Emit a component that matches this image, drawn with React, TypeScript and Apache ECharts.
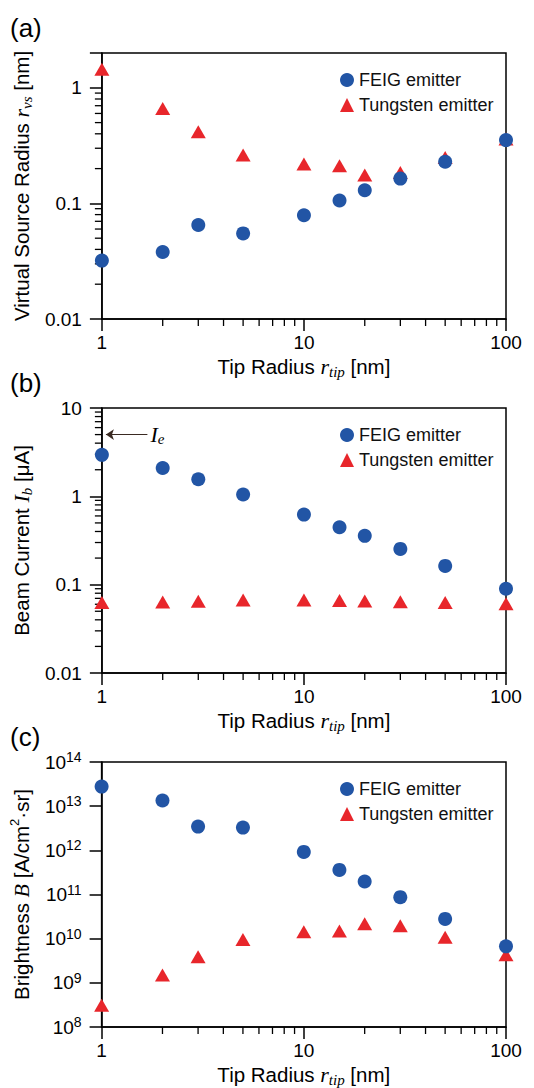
import React, { useEffect, useRef } from 'react';
import * as echarts from 'echarts';

// ---- data ----
const tipRadius = [1, 2, 3, 5, 10, 15, 20, 30, 50, 100];
const feigVirtualSource = [0.032, 0.038, 0.065, 0.055, 0.079, 0.106, 0.13, 0.164, 0.229, 0.353];
const tungstenVirtualSource = [1.45, 0.663, 0.417, 0.262, 0.219, 0.212, 0.176, 0.185, 0.25, 0.36];
const feigBeamCurrent = [2.95, 2.09, 1.56, 1.05, 0.621, 0.447, 0.357, 0.254, 0.163, 0.0899];
const tungstenBeamCurrent = [0.063, 0.0636, 0.065, 0.067, 0.067, 0.066, 0.0655, 0.064, 0.063, 0.061];
const feigBrightness = [2.77e13, 1.34e13, 3.45e12, 3.27e12, 9.2e11, 3.6e11, 1.97e11, 8.7e10, 2.8e10, 6.7e9];
const tungstenBrightness = [3.1e8, 1.5e9, 3.9e9, 9.6e9, 1.43e10, 1.5e10, 2.17e10, 1.96e10, 1.07e10, 4.3e9];
const emitterCurrent = 5; // I_e at r_tip = 1
const emitterArrowFrom = 1.68;
const emitterArrowTo = 1.047;

const xMinorTicks = [2, 3, 4, 5, 6, 7, 8, 9, 20, 30, 40, 50, 60, 70, 80, 90];
const yMinorTicksA = [0.02, 0.03, 0.04, 0.05, 0.06, 0.07, 0.08, 0.09, 0.2, 0.3, 0.4, 0.5, 0.6, 0.7, 0.8, 0.9];
const yMinorTicksB = [0.02, 0.03, 0.04, 0.05, 0.06, 0.07, 0.08, 0.09, 0.2, 0.3, 0.4, 0.5, 0.6, 0.7, 0.8, 0.9, 2, 3, 4, 5, 6, 7, 8, 9];
const yMinorTicksC: number[] = [];

const seriesNames = ['FEIG emitter', 'Tungsten emitter'];
const panelLetters = ['(a)', '(b)', '(c)'];

// ---- style ----
const SANS = '"Liberation Sans", Arial, Helvetica, sans-serif';
const SERIF = '"Liberation Serif", "Times New Roman", serif';
const BLUE = '#2255a5';
const RED = '#e8262b';
const TITLE_SIZE = 20.5;

const italicRich = {
  i: { fontFamily: SERIF, fontStyle: 'italic', fontSize: 22, lineHeight: 26, color: '#000' },
  sub: { fontFamily: SERIF, fontStyle: 'italic', fontSize: 15, lineHeight: 15, verticalAlign: 'bottom', color: '#000' },
  sup: { fontFamily: SANS, fontSize: 13, lineHeight: 13, verticalAlign: 'top', color: '#000' },
};

const pow10Label = (v: number) => {
  const l = Math.log10(v);
  const e = Math.round(l);
  if (Math.abs(l - e) > 1e-6) return '';
  if (e >= 0) return String(Math.pow(10, e));
  return '0.' + '0'.repeat(-e - 1) + '1';
};
const expLabel = (v: number) => {
  const l = Math.log10(v);
  const e = Math.round(l);
  if (Math.abs(l - e) > 1e-6) return '';
  return '10{s|' + e + '}';
};

const grids = [
  { top: 53, height: 266 },
  { top: 408, height: 265 },
  { top: 762, height: 266 },
];

const minorSeries = (idx: number, xMin: number, yMin: number, yTicks: number[]) => ({
  type: 'custom',
  xAxisIndex: idx,
  yAxisIndex: idx,
  silent: true,
  clip: false,
  z: 3,
  data: [...yTicks.map((v) => [xMin, v, 0]), ...xMinorTicks.map((v) => [v, yMin, 1])],
  renderItem: (_p: any, api: any) => {
    const pt = api.coord([api.value(0), api.value(1)]);
    const vertical = api.value(2) === 1;
    return {
      type: 'line',
      shape: vertical
        ? { x1: pt[0], y1: pt[1], x2: pt[0], y2: pt[1] + 7 }
        : { x1: pt[0] - 7, y1: pt[1], x2: pt[0], y2: pt[1] },
      style: { stroke: '#000', lineWidth: 1.3 },
    };
  },
});

export default function App() {
  const ref = useRef<HTMLDivElement>(null);
  useEffect(() => {
    if (!ref.current) return;
    const chart = echarts.init(ref.current, undefined, { renderer: 'svg' });

    const yRanges = [
      { min: 0.01, max: 2, fmt: pow10Label, name: 'Virtual Source Radius {i|r}{sub|vs} [nm]' },
      { min: 0.01, max: 10, fmt: pow10Label, name: 'Beam Current {i|I}{sub|b} [μA]' },
      { min: 1e8, max: 1e14, fmt: expLabel, name: 'Brightness {i|B} [A/cm{sup|2}·sr]' },
    ];
    const minorY = [yMinorTicksA, yMinorTicksB, yMinorTicksC];
    const feig = [feigVirtualSource, feigBeamCurrent, feigBrightness];
    const tung = [tungstenVirtualSource, tungstenBeamCurrent, tungstenBrightness];

    const series: any[] = [];
    grids.forEach((_, i) => {
      series.push({
        name: seriesNames[1],
        type: 'scatter',
        xAxisIndex: i,
        yAxisIndex: i,
        symbol: 'triangle',
        symbolSize: [15, 13],
        clip: false,
        z: 4,
        itemStyle: { color: RED, opacity: 1 },
        data: tipRadius.map((x, k) => [x, tung[i][k]]),
      });
      const feigSeries: any = {
        name: seriesNames[0],
        type: 'scatter',
        xAxisIndex: i,
        yAxisIndex: i,
        symbol: 'circle',
        symbolSize: 14,
        clip: false,
        z: 5,
        itemStyle: { color: BLUE, opacity: 1 },
        data: tipRadius.map((x, k) => [x, feig[i][k]]),
      };
      if (i === 1) {
        feigSeries.markLine = {
          silent: true,
          symbol: ['none', 'arrow'],
          symbolSize: 8,
          lineStyle: { color: '#3a2a22', width: 1.2, type: 'solid' },
          label: {
            show: true,
            position: 'start',
            distance: 3,
            formatter: '{i|I}{s|e}',
            rich: {
              i: { fontFamily: SERIF, fontStyle: 'italic', fontSize: 22, lineHeight: 24, color: '#000' },
              s: { fontFamily: SERIF, fontStyle: 'italic', fontSize: 15, lineHeight: 15, verticalAlign: 'bottom', color: '#000' },
            },
          },
          data: [[{ coord: [emitterArrowFrom, emitterCurrent] }, { coord: [emitterArrowTo, emitterCurrent] }]],
        };
      }
      series.push(feigSeries);
      series.push(minorSeries(i, 1, yRanges[i].min, minorY[i]));
    });

    chart.setOption({
      animation: false,
      backgroundColor: '#fff',
      grid: grids.map((g) => ({
        left: 101,
        width: 405,
        top: g.top,
        height: g.height,
        show: true,
        borderColor: '#000',
        borderWidth: 1.5,
        backgroundColor: 'transparent',
      })),
      legend: grids.map((g) => ({
        orient: 'vertical',
        left: 335,
        top: g.top + 13,
        itemWidth: 14,
        itemHeight: 14,
        itemGap: 7,
        selectedMode: false,
        textStyle: { fontSize: 18, fontFamily: SANS, color: '#111', lineHeight: 18 },
        data: [
          { name: seriesNames[0], icon: 'circle' },
          { name: seriesNames[1], icon: 'triangle' },
        ],
      })),
      xAxis: grids.map((_, i) => ({
        type: 'log',
        logBase: 10,
        gridIndex: i,
        min: 1,
        max: 100,
        axisLine: { show: true, lineStyle: { color: '#000', width: 1.5 } },
        axisTick: { show: true, inside: false, length: 12, lineStyle: { color: '#000', width: 1.5 } },
        axisLabel: { fontSize: 19, color: '#000', fontFamily: SANS, margin: 14, formatter: pow10Label },
        splitLine: { show: false },
        name: 'Tip Radius {i|r}{sub|tip} [nm]',
        nameLocation: 'middle',
        nameGap: 34,
        nameTextStyle: { fontSize: TITLE_SIZE, fontFamily: SANS, color: '#000', lineHeight: 26, rich: italicRich },
      })),
      yAxis: grids.map((_, i) => ({
        type: 'log',
        logBase: 10,
        gridIndex: i,
        min: yRanges[i].min,
        max: yRanges[i].max,
        axisLine: { show: true, lineStyle: { color: '#000', width: 1.5 } },
        axisTick: { show: true, inside: false, length: 12, lineStyle: { color: '#000', width: 1.5 } },
        axisLabel: {
          fontSize: 19,
          color: '#000',
          fontFamily: SANS,
          margin: 20,
          lineHeight: 24,
          formatter: yRanges[i].fmt,
          rich: { s: { fontSize: 14, fontFamily: SANS, color: '#000', lineHeight: 14, verticalAlign: 'top' } },
        },
        splitLine: { show: false },
        name: yRanges[i].name,
        nameLocation: 'middle',
        nameGap: 55,
        nameTextStyle: { fontSize: TITLE_SIZE, fontFamily: SANS, color: '#000', lineHeight: 26, rich: italicRich },
      })),
      graphic: grids.map((g, i) => ({
        type: 'text',
        left: 10,
        top: g.top - 38,
        style: { text: panelLetters[i], fontSize: 26, fontFamily: SANS, fill: '#000' },
      })),
      series,
    });
    return () => chart.dispose();
  }, []);
  return <div ref={ref} style={{ position: 'absolute', left: 0, top: 0, width: 534, height: 1088 }} />;
}
